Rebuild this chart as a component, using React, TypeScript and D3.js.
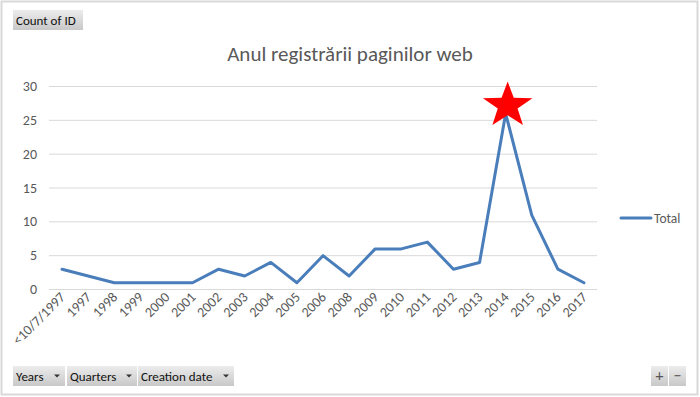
import React from "react";
import * as d3 from "d3";

const categories = ["<10/7/1997","1997","1998","1999","2000","2001","2002","2003","2004","2005","2006","2008","2009","2010","2011","2012","2013","2014","2015","2016","2017"];
const totals = [3,2,1,1,1,1,3,2,4,1,5,2,6,6,7,3,4,26,11,3,1];
const yTicks = [0,5,10,15,20,25,30];
const title = "Anul registrării paginilor web";
const seriesName = "Total";
const highlightCategory = "2014";
const fieldButtons = ["Years","Quarters","Creation date"];

const W = 700, H = 397;
const FONT = "Calibri, Carlito, 'Liberation Sans', sans-serif";

function starPath(cx: number, cy: number, rx: number, ry: number, ir: number) {
  const pts: [number, number][] = [];
  for (let i = 0; i < 10; i++) {
    const a = -Math.PI / 2 + (i * Math.PI) / 5;
    const r = i % 2 === 0 ? 1 : ir;
    pts.push([cx + Math.cos(a) * rx * r, cy + Math.sin(a) * ry * r]);
  }
  return d3.line()(pts)! + "Z";
}

function Btn({ x, y, w, h, label, arrow }: { x: number; y: number; w: number; h: number; label: string; arrow?: boolean }) {
  return (
    <g>
      <rect x={x} y={y} width={w} height={h} fill="url(#btnGrad)" />
      <text x={x + 3} y={y + h / 2 + 4.5} fontSize={13} fill="#111" fontFamily={FONT}>{label}</text>
      {arrow && <path d={`M${x + w - 11},${y + h / 2 - 1.5} l6,0 l-3,3 z`} fill="#333" />}
    </g>
  );
}

export default function App() {
  const x = d3.scaleBand().domain(categories).range([49, 597]);
  const y = d3.scaleLinear().domain([0, 30]).range([289.5, 86.5]);
  const line = d3.line<number>()
    .x((_, i) => x(categories[i])! + x.bandwidth() / 2)
    .y((d) => y(d));
  const hi = categories.indexOf(highlightCategory);
  const sx = x(categories[hi])! + x.bandwidth() / 2 + 2;
  const sy = y(totals[hi]) - 10;

  const btnX = [13, 67, 138];
  const btnW = [52, 70, 96];

  return (
    <svg width={W} height={H} style={{ position: "absolute", left: 0, top: 0 }}>
      <defs>
        <linearGradient id="btnGrad" x1="0" y1="0" x2="0" y2="1">
          <stop offset="0" stopColor="#ececec" />
          <stop offset="1" stopColor="#c8c8c8" />
        </linearGradient>
      </defs>
      <rect x={0} y={0} width={W} height={H} fill="#fff" />
      <rect x={1.5} y={1.5} width={W - 4} height={H - 4} fill="none" stroke="#d9d9d9" strokeWidth={2} />

      <Btn x={13} y={10} w={70} h={20} label="Count of ID" />

      <text x={350} y={61} textAnchor="middle" fontSize={21} fill="#595959" fontFamily={FONT}>{title}</text>

      {yTicks.map((t) => (
        <g key={t}>
          <line x1={49} x2={597} y1={y(t)} y2={y(t)} stroke="#d9d9d9" strokeWidth={1} />
          <text x={37} y={y(t) + 4.5} textAnchor="end" fontSize={14} fill="#595959" fontFamily={FONT}>{t}</text>
        </g>
      ))}

      {categories.map((c) => {
        const cx = x(c)! + x.bandwidth() / 2 + 4;
        const cy = 298;
        return (
          <text key={c} transform={`translate(${cx},${cy}) rotate(-45)`} textAnchor="end" fontSize={14} fill="#595959" fontFamily={FONT}>{c}</text>
        );
      })}

      <path d={line(totals)!} fill="none" stroke="#4a7ebb" strokeWidth={3} strokeLinejoin="round" strokeLinecap="round" />

      <path d={starPath(sx, sy + 2, 26, 24, 0.4)} fill="#ff0000" />

      <line x1={621} x2={651} y1={218} y2={218} stroke="#4a7ebb" strokeWidth={3} strokeLinecap="round" />
      <text x={654} y={222.5} fontSize={13.5} fill="#595959" fontFamily={FONT}>{seriesName}</text>

      {fieldButtons.map((b, i) => (
        <Btn key={b} x={btnX[i]} y={366} w={btnW[i]} h={20} label={b} arrow />
      ))}

      <rect x={651} y={366} width={17} height={20} fill="url(#btnGrad)" />
      <text x={659.5} y={381} textAnchor="middle" fontSize={16} fill="#555" fontFamily={FONT}>+</text>
      <rect x={669} y={366} width={17} height={20} fill="url(#btnGrad)" />
      <text x={677.5} y={381} textAnchor="middle" fontSize={16} fill="#555" fontFamily={FONT}>−</text>
    </svg>
  );
}
